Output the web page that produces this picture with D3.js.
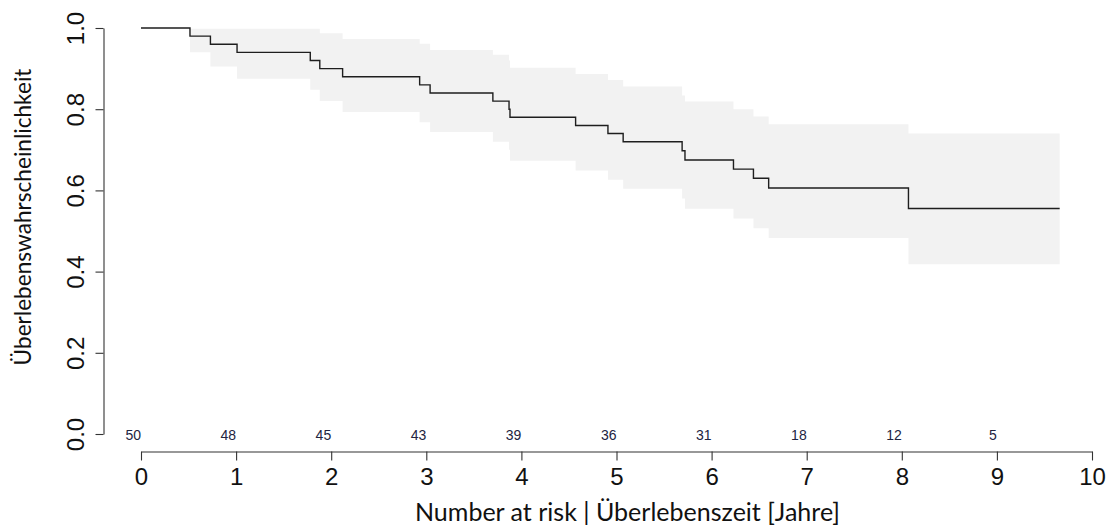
<!DOCTYPE html>
<html>
<head>
<meta charset="utf-8">
<script src="https://cdnjs.cloudflare.com/ajax/libs/d3/7.8.5/d3.min.js"></script>
<style>
  body { margin: 0; background: #fff; }
  svg { display: block; }
</style>
</head>
<body>
<div id="chart"></div>
<script>
// Kaplan-Meier estimate
const times = [0, 0.515, 0.73, 1.01, 1.78, 1.88, 2.12, 2.93, 3.04, 3.70, 3.87, 3.88, 4.57, 4.91, 5.07, 5.69, 5.72, 6.23, 6.44, 6.60, 8.07];
const surv  = [1, 0.98, 0.96, 0.94, 0.92, 0.90, 0.88, 0.86, 0.84, 0.82, 0.80, 0.78, 0.76, 0.74, 0.72, 0.6975, 0.675, 0.6525, 0.630, 0.606, 0.5555];
const upper = [1, 0.998, 0.998, 0.998, 0.998, 0.987, 0.973, 0.961, 0.946, 0.934, 0.92, 0.902, 0.887, 0.872, 0.856, 0.834, 0.819, 0.80, 0.782, 0.763, 0.740];
const lower = [1, 0.94, 0.905, 0.875, 0.848, 0.82, 0.793, 0.768, 0.744, 0.72, 0.70, 0.673, 0.649, 0.626, 0.604, 0.58, 0.555, 0.531, 0.507, 0.483, 0.418];
const tEnd = 9.66;

// number at risk
const riskTimes = [0, 1, 2, 3, 4, 5, 6, 7, 8, 9];
const riskN = [50, 48, 45, 43, 39, 36, 31, 18, 12, 5];

const xTicks = [0, 1, 2, 3, 4, 5, 6, 7, 8, 9, 10];
const yTicks = [0, 0.2, 0.4, 0.6, 0.8, 1.0];

const W = 1110, H = 529;
const svg = d3.select("#chart").append("svg")
    .attr("width", W)
    .attr("height", H);

const x = d3.scaleLinear().domain([0, 10]).range([141, 1092]);
const y = d3.scaleLinear().domain([0, 1]).range([434, 28]);

let pts = times.map((t, i) => ({t: t, s: surv[i], lo: lower[i], hi: upper[i]}));
let last = pts[pts.length - 1];
pts.push({t: tEnd, s: last.s, lo: last.lo, hi: last.hi});

// confidence band
let area = d3.area()
    .curve(d3.curveStepAfter)
    .x(d => x(d.t))
    .y0(d => y(d.lo))
    .y1(d => y(d.hi));

svg.append("path")
    .datum(pts)
    .attr("d", area)
    .attr("fill", "#f2f2f2")
    .attr("stroke", "none");

// survival curve
let line = d3.line()
    .curve(d3.curveStepAfter)
    .x(d => x(d.t))
    .y(d => y(d.s));

svg.append("path")
    .datum(pts)
    .attr("d", line)
    .attr("fill", "none")
    .attr("stroke", "#1e1e1e")
    .attr("stroke-width", 1.4);

// x axis
let xAxis = svg.append("g")
    .attr("transform", "translate(0,451.5)")
    .call(d3.axisBottom(x).tickValues(xTicks).tickFormat(d3.format("d")).tickSize(9).tickSizeOuter(0));

xAxis.selectAll("path, line").attr("stroke", "#333").attr("stroke-width", 1.1);
xAxis.selectAll("text")
    .attr("y", 33.5)
    .attr("dy", null)
    .attr("fill", "#111")
    .style("font-family", "'Liberation Sans', Arial, sans-serif")
    .style("font-size", "24px");

// y axis
let yAxis = svg.append("g")
    .attr("transform", "translate(103.5,0)")
    .call(d3.axisLeft(y).tickValues(yTicks).tickFormat(d3.format(".1f")).tickSize(8).tickSizeOuter(0));

yAxis.selectAll("path, line").attr("stroke", "#333").attr("stroke-width", 1.1);
yAxis.selectAll("text")
    .attr("transform", "rotate(-90)")
    .attr("x", 0)
    .attr("y", -20)
    .attr("dy", null)
    .attr("text-anchor", "middle")
    .attr("fill", "#111")
    .style("font-family", "'Liberation Sans', Arial, sans-serif")
    .style("font-size", "24px");

// number at risk row
svg.append("g")
    .selectAll("text")
    .data(riskTimes)
    .enter().append("text")
    .attr("x", d => x(d))
    .attr("y", 440)
    .attr("text-anchor", "end")
    .attr("fill", "#22243f")
    .style("font-family", "'Liberation Sans', Arial, sans-serif")
    .style("font-size", "14px")
    .text((d, i) => riskN[i]);

// titles: fit the width seen in the picture
function fitText(sel, target) {
    let len = sel.node().getComputedTextLength();
    let fs = parseFloat(sel.style("font-size"));
    sel.style("font-size", (fs * target / len).toFixed(2) + "px");
}

let xTitle = svg.append("text")
    .attr("x", 627.5)
    .attr("y", 521)
    .attr("text-anchor", "middle")
    .attr("fill", "#111")
    .style("font-family", "Lato, 'Open Sans', sans-serif")
    .style("font-size", "22px")
    .text("Number at risk | Überlebenszeit [Jahre]");
fitText(xTitle, 425);

let yTitle = svg.append("text")
    .attr("transform", "translate(31,217) rotate(-90)")
    .attr("text-anchor", "middle")
    .attr("fill", "#111")
    .style("font-family", "Lato, 'Open Sans', sans-serif")
    .style("font-size", "22px")
    .text("Überlebenswahrscheinlichkeit");
fitText(yTitle, 297);
</script>
</body>
</html>
